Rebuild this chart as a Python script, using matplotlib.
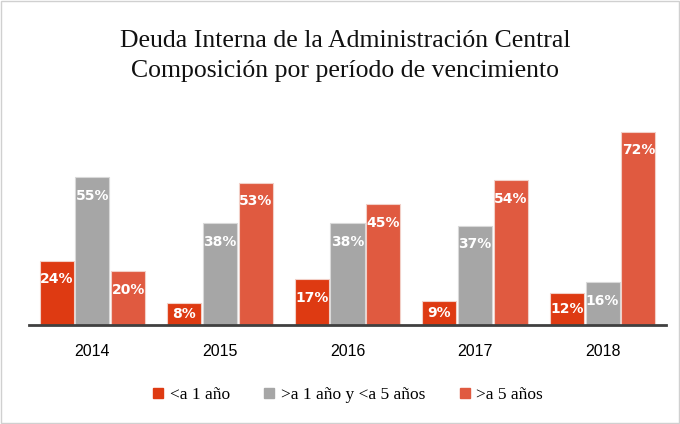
import matplotlib.pyplot as plt
import matplotlib.patches as mpatches
import numpy as np

years = ["2014", "2015", "2016", "2017", "2018"]
menos_1 = [24, 8, 17, 9, 12]
entre_1_5 = [55, 38, 38, 37, 16]
mas_5 = [20, 53, 45, 54, 72]

series = [
    ("<a 1 año", menos_1, "#DE3A12"),
    (">a 1 año y <a 5 años", entre_1_5, "#A6A6A6"),
    (">a 5 años", mas_5, "#E05A40"),
]

fig = plt.figure(figsize=(6.8, 4.24), dpi=100)
fig.patch.set_facecolor("white")
ax = fig.add_axes([0.042, 0.2335, 0.938, 0.507])

x = np.arange(len(years))
w = 0.268
for i, (name, vals, col) in enumerate(series):
    pos = x + (i - 1) * (w + 0.012)
    bars = ax.bar(pos, vals, width=w, color=col, edgecolor="#F2D0C8" if i != 1 else "#D9D9D9",
                  linewidth=0.8, label=name, zorder=2)
    for b, v in zip(bars, vals):
        # inside end; short bars get the label centred
        ly = v - min(7.0, v / 2)
        ax.text(b.get_x() + b.get_width() / 2, ly, f"{v}%",
                ha="center", va="center", color="white", fontsize=10,
                fontweight="bold", family="DejaVu Sans", zorder=3)

ax.set_xlim(-0.5, len(years) - 0.5)
ax.set_ylim(0, 80)
ax.set_xticks(x)
ax.set_xticklabels(years, fontsize=11.5, family="Liberation Sans")
ax.tick_params(axis="x", length=0, pad=14)
ax.set_yticks([])
for s in ["top", "right", "left"]:
    ax.spines[s].set_visible(False)
ax.spines["bottom"].set_color("#404040")
ax.spines["bottom"].set_linewidth(2)

fig.text(0.507, 0.903, "Deuda Interna de la Administración Central",
         ha="center", va="center", fontsize=18.5, family="Liberation Serif", color="#111111")
fig.text(0.507, 0.833, "Composición por período de vencimiento",
         ha="center", va="center", fontsize=18.5, family="Liberation Serif", color="#111111")

handles = [mpatches.Patch(color=c, label=n) for n, _, c in series]
fig.legend(handles=handles, loc="center", bbox_to_anchor=(0.512, 0.068), ncol=3,
           frameon=False, prop={"family": "Liberation Serif", "size": 12.5},
           handlelength=0.55, handleheight=0.55, handletextpad=0.4, columnspacing=2.0)

fig.add_artist(mpatches.Rectangle((0.002, 0.002), 0.996, 0.996, transform=fig.transFigure,
                                  fill=False, edgecolor="#D0D0D0", linewidth=1))

fig.savefig("out.png", dpi=100, facecolor="white")
